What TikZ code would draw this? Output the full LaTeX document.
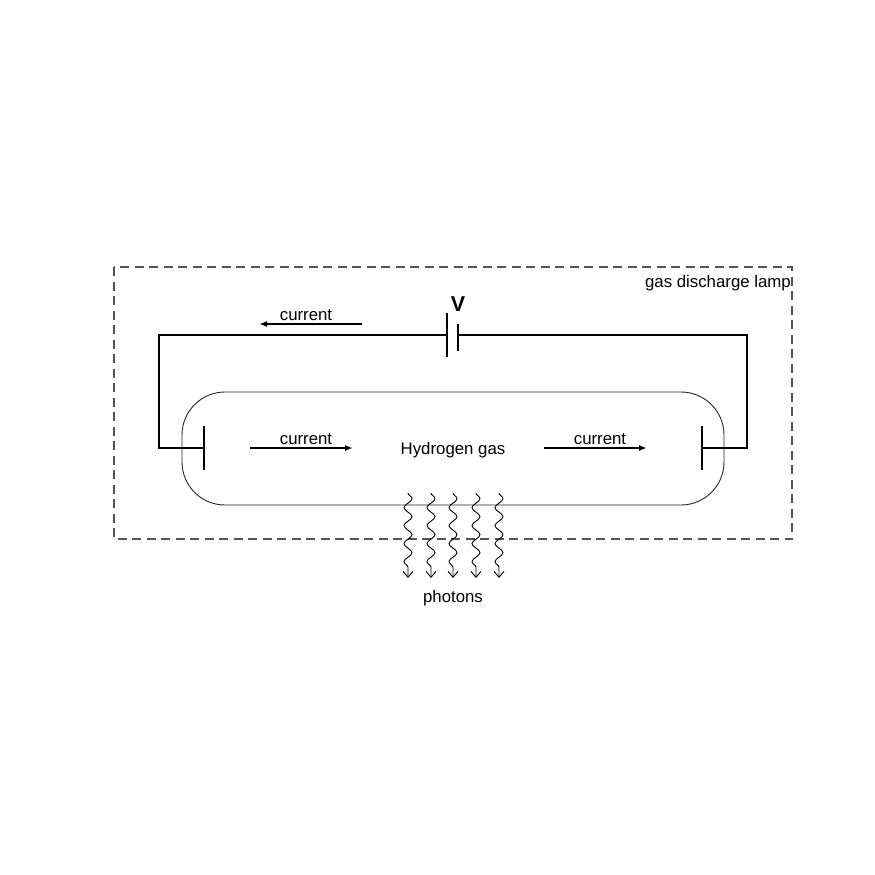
\documentclass[tikz,border=0pt]{standalone}
\usepackage{fontspec}
\setmainfont{Liberation Sans}
\usetikzlibrary{arrows.meta,decorations.pathmorphing}
\definecolor{lampGray}{RGB}{85,85,85}
\tikzset{
    base/.style={font=\fontsize{16.8}{18}\selectfont, inner sep=0pt},
    lamp/.style={draw=lampGray, line width=1.2pt, dash pattern=on 9pt off 5.5pt},
    tube/.style={draw=black!85, line width=0.9pt, rounded corners=43pt},
    wire/.style={draw=black, line width=2.4pt, line join=miter},
    plate/.style={draw=black, line width=2.4pt},
    flow/.style={-{Latex[length=8pt,width=6pt]}, draw=black, line width=2.2pt},
    photon/.style={-{Straight Barb[length=6pt,width=10pt]}, black, line width=0.9pt,
                   decorate, decoration={snake, amplitude=4pt, segment length=18pt, post length=8pt}}
}
\begin{document}
\begin{tikzpicture}[x=1pt,y=-1pt]
  \useasboundingbox (0,0) rectangle (875,875);
  % Lamp outline and tube
  \draw[lamp] (114,267) rectangle (792,539);
  \draw[tube] (182,392) rectangle (724,505);

  % Circuit corners
  \coordinate (batL) at (447,335);
  \coordinate (batR) at (458,335);
  \coordinate (topL) at (159,335);
  \coordinate (topR) at (747,335);
  \coordinate (midL) at (159,448);
  \coordinate (midR) at (747,448);
  \coordinate (catL) at (204,448);
  \coordinate (catR) at (702,448);
  \draw[wire] (batL) -- (topL) -- (midL) -- (catL);
  \draw[wire] (batR) -- (topR) -- (midR) -- (catR);

  % Electrodes and battery
  \draw[plate] (204,426) -- (catL) -- (204,470);
  \draw[plate] (702,426) -- (catR) -- (702,470);
  \draw[plate] (447,313) -- (batL) -- (447,357);
  \draw[plate] (458,324) -- (batR) -- (458,351);

  % Current arrows
  \coordinate (c1s) at (362,324);
  \coordinate (c1e) at (259,324);
  \coordinate (c2s) at (250,448);
  \coordinate (c2e) at (353,448);
  \coordinate (c3s) at (544,448);
  \coordinate (c3e) at (647,448);
  \draw[flow] (c1s) -- (c1e);
  \draw[flow] (c2s) -- (c2e);
  \draw[flow] (c3s) -- (c3e);

  % Labels
  \node[base] (curTop) at (306,315) {current};
  \node[base] (curLeft) at (306,439) {current};
  \node[base] (curRight) at (600,439) {current};
  \node[base] (gas) at (453,450.5) {Hydrogen gas};
  \node[base] (photons) at (453,598) {photons};
  \node[base, anchor=east] (lampText) at (791,283) {gas discharge lamp};
  \node[base, font=\fontsize{21.5}{24}\selectfont\bfseries] (volt) at (458,304) {V};

  % Photons
  \foreach \x/\name in {408/a,431/b,453/c,476/d,499/e} {
    \coordinate (ph\name s) at (\x,493);
    \coordinate (ph\name e) at (\x,578);
    \draw[photon] (ph\name s) -- (ph\name e);
  }
\end{tikzpicture}
\end{document}
